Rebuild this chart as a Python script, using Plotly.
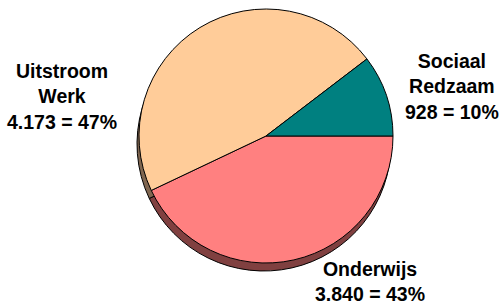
import plotly.graph_objects as go

categories = ["Sociaal Redzaam", "Onderwijs", "Uitstroom Werk"]
label_lines = [["Sociaal", "Redzaam"], ["Onderwijs"], ["Uitstroom", "Werk"]]
values = [928, 3840, 4173]
percent_labels = ["10%", "43%", "47%"]

top_colors = ["#008080", "#FF8080", "#FFCC99"]
shadow_colors = ["#004040", "#804040", "#806650"]

# slice order on the pie (clockwise from 3 o'clock): Onderwijs, Uitstroom Werk, Sociaal Redzaam
order = [1, 2, 0]
pie_labels = [categories[i] for i in order]
pie_values = [values[i] for i in order]
pie_top = [top_colors[i] for i in order]
pie_shadow = [shadow_colors[i] for i in order]

W, H = 499, 308

def dom(cx, cy, r):
    return dict(x=[(cx - r) / W, (cx + r) / W], y=[1 - (cy + r) / H, 1 - (cy - r) / H])

fig = go.Figure()
common = dict(labels=pie_labels, values=pie_values, sort=False, direction="clockwise",
              rotation=90, textinfo="none", hoverinfo="skip", showlegend=False)
fig.add_trace(go.Pie(**common, domain=dom(264, 144, 127),
                     marker=dict(colors=pie_shadow, line=dict(color="black", width=1))))
fig.add_trace(go.Pie(**common, domain=dom(266, 136, 127),
                     marker=dict(colors=pie_top, line=dict(color="black", width=1))))

def fmt(v):
    return f"{v:,}".replace(",", ".")

positions = {0: (452, 86), 1: (370, 281), 2: (62, 96)}
for i in range(3):
    lines = label_lines[i] + [f"{fmt(values[i])} = {percent_labels[i]}"]
    text = "<br>".join(f"<b>{l}</b>" for l in lines)
    x, y = positions[i]
    fig.add_annotation(x=x / W, y=1 - y / H, xref="paper", yref="paper", text=text,
                       showarrow=False, xanchor="center", yanchor="middle", align="center",
                       font=dict(family="Liberation Sans, Arial, sans-serif", size=19.5, color="black"))

fig.update_layout(width=W, height=H, margin=dict(l=0, r=0, t=0, b=0),
                  paper_bgcolor="white", plot_bgcolor="white")
fig.write_html("out.html", config={"displayModeBar": False},
               post_script="document.body.style.margin='0';")
